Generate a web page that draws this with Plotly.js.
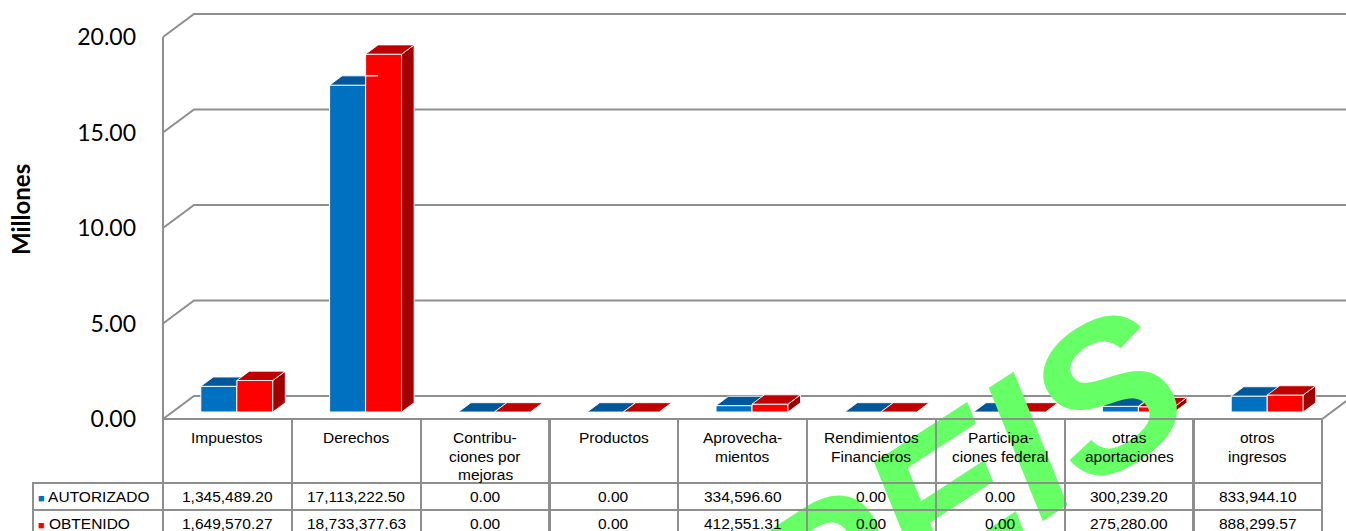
<!DOCTYPE html>
<html><head><meta charset="utf-8">
<script src="https://cdn.plot.ly/plotly-3.0.1.min.js"></script>
<style>html,body{margin:0;padding:0;background:#fff;overflow:hidden;} #chart{width:1346px;height:531px;}</style>
</head><body><div id="chart"></div>
<script>
// ---------------- data ----------------
const categories = ["Impuestos", "Derechos", "Contribu-<br>ciones por<br>mejoras", "Productos",
  "Aprovecha-<br>mientos", "Rendimientos<br>Financieros", "Participa-<br>ciones federal",
  "otras<br>aportaciones", "otros<br>ingresos"];
const autorizado = [1345489.20, 17113222.50, 0.00, 0.00, 334596.60, 0.00, 0.00, 300239.20, 833944.10];
const obtenido   = [1649570.27, 18733377.63, 0.00, 0.00, 412551.31, 0.00, 0.00, 275280.00, 888299.57];
const seriesNames = ["AUTORIZADO", "OBTENIDO"];
const yTickValues = [0, 5, 10, 15, 20];
const yAxisTitle = "Millones";
const watermarkText = "OPEIS";

// ---------------- styles / geometry (pixels) ----------------
const frontColors = ["#0070C0", "#FF0000"];
const topColors   = ["#00589A", "#C00000"];
const sideColor   = "#A00000";
const gridColor   = "#8E8E8E";
const PLOT_L = 140, PLOT_R = 1346, PLOT_T = 8, PLOT_B = 426;
const FRONT_X0 = 163, FRONT_Y0 = 419, CAT_W = 128.8, PXU = 19.1;
const PLANE_DX = 9.4, PLANE_DY = 7;   // bar plane offset from front edge (right, up)
const BACK_DX = 31, BACK_DY = 23;     // back wall offset from front edge (right, up)
const BAR_DX = 12.5, BAR_DY = 9.3;    // bar depth
const BARGAP = 0.441;
const HEAD_T = 419, HEAD_B = 483, ROW_H = 27, LEG_L = 33;
const BW = 2;

const zeroPx = FRONT_Y0 - PLANE_DY;
const xr0 = -0.5 - (FRONT_X0 + PLANE_DX - PLOT_L) / CAT_W;
const xr1 = xr0 + (PLOT_R - PLOT_L) / CAT_W;
const yr0 = -(PLOT_B - zeroPx) / PXU;
const yr1 = (zeroPx - PLOT_T) / PXU;
const fx = -PLANE_DX / CAT_W, fy = -PLANE_DY / PXU;
const bx = (BACK_DX - PLANE_DX) / CAT_W, by = (BACK_DY - PLANE_DY) / PXU;
const ddx = BAR_DX / CAT_W, ddy = BAR_DY / PXU;
const half = (1 - BARGAP) / 2;
const n = categories.length;
const py = p => (PLOT_B - p) / (PLOT_B - PLOT_T);
const ppx = p => (p - PLOT_L) / (PLOT_R - PLOT_L);

const poly = (pts, close) => "M " + pts.map(p => p[0].toFixed(5) + "," + p[1].toFixed(5)).join(" L ") + (close ? " Z" : "");

// ---------------- traces ----------------
const traces = [autorizado, obtenido].map((vals, k) => ({
  type: "bar", name: seriesNames[k], x: categories, y: vals.map(v => v / 1e6),
  marker: { color: frontColors[k], line: { color: "#FFFFFF", width: 1 } },
  hoverinfo: "skip"
}));

// ---------------- shapes ----------------
const shapes = [];
const gl = { color: gridColor, width: 2 };
yTickValues.forEach(v => {
  shapes.push({ type: "path", xref: "x", yref: "y", layer: "below", line: gl,
    path: poly([[-0.5 + fx, v + fy], [-0.5 + bx, v + by], [xr1 + 1, v + by]], false) });
});
const yMax = Math.max(...yTickValues);
shapes.push({ type: "path", xref: "x", yref: "y", layer: "below", line: gl,
  path: poly([[-0.5 + fx, fy], [-0.5 + fx, yMax + fy]], false) });
shapes.push({ type: "path", xref: "x", yref: "y", layer: "below", line: gl,
  path: poly([[-0.5 + fx, fy], [n - 0.5 + fx, fy], [n - 0.5 + bx, by]], false) });

const faceLine = { color: "rgba(255,255,255,0.85)", width: 1 };
for (let i = 0; i < n; i++) {
  const vb = autorizado[i] / 1e6, vr = obtenido[i] / 1e6;
  const bl = i - half, br = i, rl = i, rr = i + half;
  const c = Math.max(0, Math.min(ddy, vr - vb));
  shapes.push({ type: "path", xref: "x", yref: "y", layer: "above", line: faceLine, fillcolor: topColors[0],
    path: poly([[bl, vb], [br, vb], [br, vb + c], [br + ddx * c / ddy, vb + c], [br + ddx, vb + ddy], [bl + ddx, vb + ddy]], true) });
  shapes.push({ type: "path", xref: "x", yref: "y", layer: "above", line: faceLine, fillcolor: sideColor,
    path: poly([[rr, 0], [rr, vr], [rr + ddx, vr + ddy], [rr + ddx, ddy]], true) });
  shapes.push({ type: "path", xref: "x", yref: "y", layer: "above", line: faceLine, fillcolor: topColors[1],
    path: poly([[rl, vr], [rr, vr], [rr + ddx, vr + ddy], [rl + ddx, vr + ddy]], true) });
}

// ---------------- annotations ----------------
const annotations = [];
const tFont = { family: "Liberation Sans, Arial, sans-serif", size: 15.5, color: "#000" };
annotations.push({ xref: "paper", yref: "paper", x: ppx(20), y: py(210), xanchor: "center", yanchor: "middle",
  text: "<b>" + yAxisTitle + "</b>", textangle: -90, showarrow: false,
  font: { family: "Lato, sans-serif", size: 24, color: "#000" } });
// watermark
annotations.push({ xref: "paper", yref: "paper", x: ppx(900), y: py(528), xanchor: "center", yanchor: "middle",
  text: "<b><i>" + watermarkText + "</i></b>", textangle: -33, showarrow: false,
  font: { family: "Liberation Sans, Arial, sans-serif", size: 205, color: "#66FF66" } });

const fmt = v => v.toLocaleString("en-US", { minimumFractionDigits: 2, maximumFractionDigits: 2 });
const border = (xref, xc, yc, w, h) => ({ xref: xref, yref: "paper", x: xc, y: py(yc), xanchor: "center", yanchor: "middle",
  text: " ", showarrow: false, width: w - BW, height: h - BW, bordercolor: gridColor, borderwidth: BW, borderpad: 0,
  bgcolor: "rgba(0,0,0,0)" });
const rowsTop = [HEAD_B, HEAD_B + ROW_H];
const seriesVals = [autorizado, obtenido];
for (let i = 0; i < n; i++) {
  const xc = i + fx;
  annotations.push(border("x", xc, (HEAD_T + HEAD_B) / 2, CAT_W, HEAD_B - HEAD_T));
  rowsTop.forEach(t => annotations.push(border("x", xc, t + ROW_H / 2, CAT_W, ROW_H)));
}
rowsTop.forEach(t => annotations.push(border("paper", ppx((LEG_L + FRONT_X0) / 2), t + ROW_H / 2, FRONT_X0 - LEG_L, ROW_H)));

for (let i = 0; i < n; i++) {
  const xc = i + fx;
  categories[i].split("<br>").forEach((line, k) => {
    annotations.push({ xref: "x", yref: "paper", x: xc, y: py(437.5 + k * 18.5), xanchor: "center", yanchor: "middle",
      text: line, showarrow: false, borderpad: 0, font: tFont });
  });
  seriesVals.forEach((vals, s) => {
    annotations.push({ xref: "x", yref: "paper", x: xc, y: py(rowsTop[s] + ROW_H / 2), xanchor: "center", yanchor: "middle",
      text: fmt(vals[i]), showarrow: false, borderpad: 0, font: tFont });
  });
}
seriesNames.forEach((nm, s) => {
  annotations.push({ xref: "paper", yref: "paper", x: ppx(37), y: py(rowsTop[s] + ROW_H / 2), xanchor: "left", yanchor: "middle",
    text: '<span style="color:' + frontColors[s] + ';font-size:11px">■</span> ' + nm, showarrow: false, borderpad: 0, font: tFont });
});

const layout = {
  width: 1346, height: 531,
  margin: { l: PLOT_L, r: 1346 - PLOT_R, t: PLOT_T, b: 531 - PLOT_B, pad: 0 },
  paper_bgcolor: "#FFFFFF", plot_bgcolor: "#FFFFFF",
  barmode: "group", bargap: BARGAP, bargroupgap: 0, showlegend: false,
  xaxis: { type: "category", range: [xr0, xr1], showticklabels: false, showgrid: false, zeroline: false, showline: false, ticks: "" },
  yaxis: { range: [yr0, yr1], tickvals: yTickValues, tickformat: ".2f", showgrid: false, zeroline: false, showline: false,
    ticks: "", ticklabelshift: 7, ticklabelstandoff: 3,
    tickfont: { family: "Lato, sans-serif", size: 23, color: "#000" } },
  shapes: shapes, annotations: annotations
};
Plotly.newPlot("chart", traces, layout, { staticPlot: true, displayModeBar: false });
</script>
</body></html>
